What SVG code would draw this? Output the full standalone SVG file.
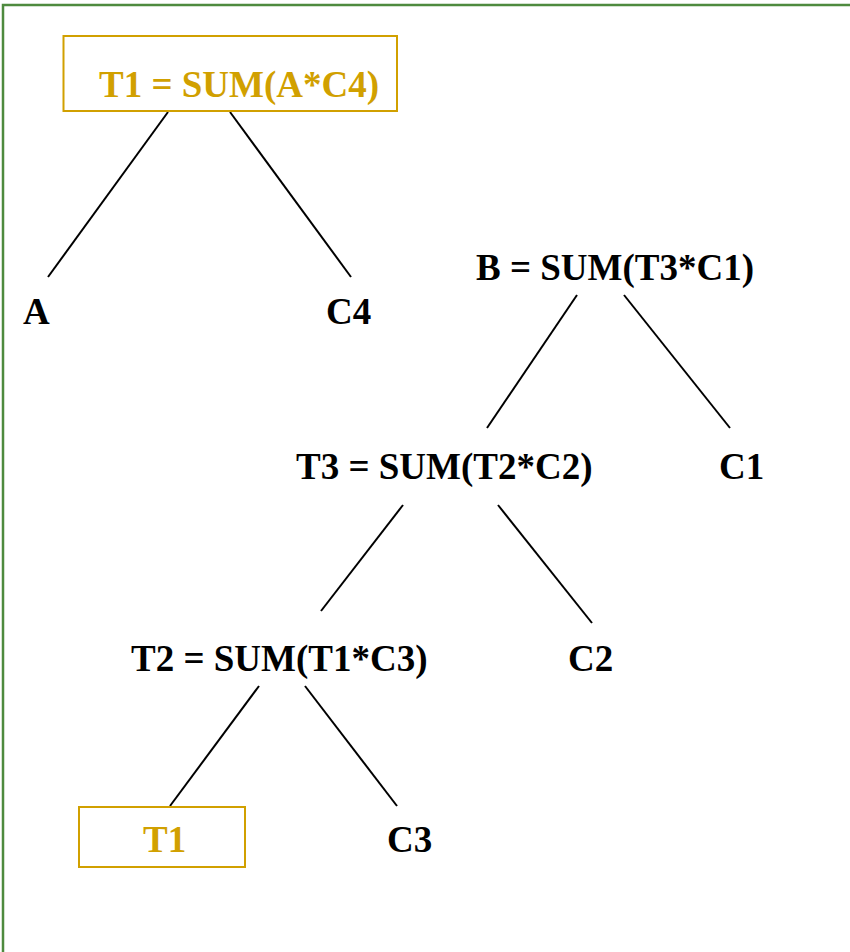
<svg xmlns="http://www.w3.org/2000/svg" width="850" height="952" viewBox="0 0 850 952">
  <style>
    .lbl { font-family: "Liberation Serif", "Times New Roman", serif; font-weight: bold; font-size: 37px; fill: #000; }
    .hl { fill: #d1a000; }
    .hlbox { fill: #fff; stroke: #d1a000; stroke-width: 2; }
    .edge { stroke: #000; stroke-width: 2; fill: none; }
  </style>
  <rect x="0" y="0" width="850" height="952" fill="#fff"/>
  <!-- outer frame -->
  <rect x="3" y="5" width="900" height="1000" fill="none" stroke="#4e8a3e" stroke-width="2.5"/>

  <g id="connectors">
    <line class="edge" x1="168" y1="112" x2="48" y2="277"/>
    <line class="edge" x1="230" y1="112" x2="351" y2="277"/>
    <line class="edge" x1="577" y1="295" x2="487" y2="428"/>
    <line class="edge" x1="624" y1="295" x2="730" y2="428"/>
    <line class="edge" x1="403" y1="505" x2="321" y2="611"/>
    <line class="edge" x1="498" y1="505" x2="592" y2="623"/>
    <line class="edge" x1="259" y1="686" x2="170" y2="806"/>
    <line class="edge" x1="305" y1="686" x2="397" y2="806"/>
  </g>

  <g id="t1-root">
    <rect class="hlbox" x="63.5" y="36" width="333.5" height="75"/>
    <text class="lbl hl" x="99" y="97">T1 = SUM(A*C4)</text>
  </g>
  <g id="a"><text class="lbl" x="23" y="324">A</text></g>
  <g id="c4"><text class="lbl" x="326" y="324">C4</text></g>

  <g id="b"><text class="lbl" x="476" y="280">B = SUM(T3*C1)</text></g>
  <g id="t3"><text class="lbl" x="296" y="479">T3 = SUM(T2*C2)</text></g>
  <g id="c1"><text class="lbl" x="719" y="479">C1</text></g>
  <g id="t2"><text class="lbl" x="131" y="671">T2 = SUM(T1*C3)</text></g>
  <g id="c2"><text class="lbl" x="568" y="671">C2</text></g>
  <g id="t1-leaf">
    <rect class="hlbox" x="79" y="807" width="166" height="60"/>
    <text class="lbl hl" x="143" y="852">T1</text>
  </g>
  <g id="c3"><text class="lbl" x="387" y="852">C3</text></g>
</svg>
